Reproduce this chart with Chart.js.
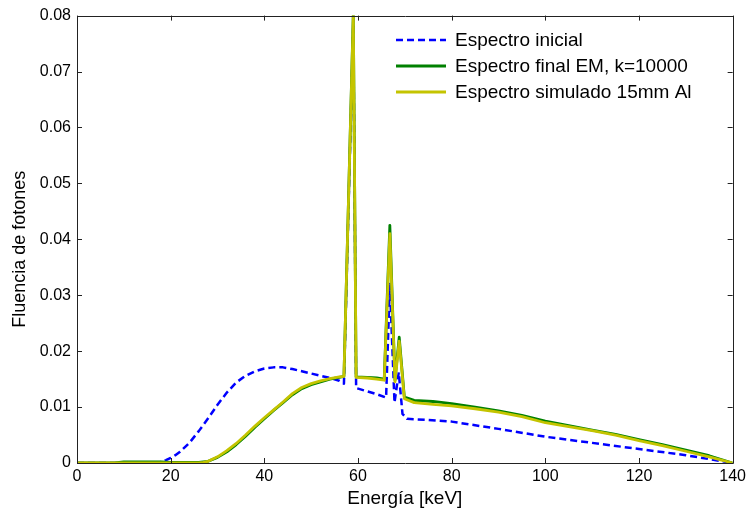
<!DOCTYPE html>
<html>
<head>
<meta charset="utf-8">
<script src="https://cdn.jsdelivr.net/npm/chart.js@4/dist/chart.umd.min.js"></script>
<style>
  html, body { margin: 0; padding: 0; background: #fff; }
  #wrap { width: 750px; height: 518px; position: relative; }
</style>
</head>
<body>
<div id="wrap"><canvas id="c" width="750" height="518"></canvas></div>
<script>
// Spectra (energy in keV, photon fluence)
const initialEnergy = [0, 17, 18, 19, 20, 21, 22, 24, 26, 28, 30, 32, 34, 36, 38, 40, 42, 44, 46, 48, 50, 52, 54, 56, 57, 59, 59.6, 62, 64, 66, 66.8, 67.8, 68.7, 69.5, 70.5, 75, 80, 90, 100, 110, 120, 130, 140];
const initialFluence = [0, 0, 0.0002, 0.0005, 0.0009, 0.0014, 0.0020, 0.0036, 0.0057, 0.0080, 0.0104, 0.0126, 0.0144, 0.0156, 0.0164, 0.0169, 0.0171, 0.0171, 0.0168, 0.0164, 0.0160, 0.0156, 0.0152, 0.0147, 0.0142, 0.0785, 0.0134, 0.0128, 0.0123, 0.0117, 0.0320, 0.0108, 0.0162, 0.0088, 0.0079, 0.0077, 0.0074, 0.0061, 0.0047, 0.0036, 0.0025, 0.0014, 0];

const emEnergy = [0, 8, 10, 18, 20, 26, 28, 30, 32, 34, 36, 38, 40, 42, 44, 46, 48, 50, 52, 54, 56, 57, 59, 59.6, 62, 64, 65.6, 66.8, 67.9, 68.8, 69.9, 72, 76, 80, 85, 90, 95, 100, 105, 110, 115, 120, 125, 130, 135, 140];
const emFluence = [0, 0, 0.0002, 0.0002, 0.0001, 0.0001, 0.0003, 0.0010, 0.0020, 0.0033, 0.0048, 0.0064, 0.0079, 0.0094, 0.0108, 0.0122, 0.0133, 0.0140, 0.0145, 0.0150, 0.0153, 0.0155, 0.0805, 0.0154, 0.0153, 0.0152, 0.0150, 0.0425, 0.0148, 0.0225, 0.0118, 0.0112, 0.0110, 0.0106, 0.0100, 0.0093, 0.0085, 0.0075, 0.0067, 0.0059, 0.0051, 0.0042, 0.0033, 0.0023, 0.0013, 0];

const simEnergy = [0, 26, 27, 28, 29, 30, 32, 34, 36, 38, 40, 42, 44, 46, 48, 50, 52, 54, 56, 57, 59, 59.6, 62, 64, 65.6, 66.8, 67.9, 68.8, 69.9, 72, 76, 80, 85, 90, 95, 100, 105, 110, 115, 120, 125, 130, 135, 140];
const simFluence = [0, 0, 0.0001, 0.0003, 0.0007, 0.0011, 0.0022, 0.0035, 0.0050, 0.0066, 0.0081, 0.0095, 0.0109, 0.0124, 0.0135, 0.0142, 0.0147, 0.0151, 0.0154, 0.0155, 0.0800, 0.0153, 0.0152, 0.0150, 0.0148, 0.0410, 0.0145, 0.0218, 0.0115, 0.0108, 0.0105, 0.0102, 0.0097, 0.0091, 0.0083, 0.0072, 0.0065, 0.0058, 0.0050, 0.0040, 0.0031, 0.0021, 0.0011, 0];

const seriesLabels = ['Espectro inicial', 'Espectro final EM, k=10000', 'Espectro simulado 15mm Al'];
const xTickValues = [0, 20, 40, 60, 80, 100, 120, 140];
const yTickValues = [0, 0.01, 0.02, 0.03, 0.04, 0.05, 0.06, 0.07, 0.08];
const yTickLabels = ['0', '0.01', '0.02', '0.03', '0.04', '0.05', '0.06', '0.07', '0.08'];
const xAxisTitle = 'Energía [keV]';
const yAxisTitle = 'Fluencia de fotones';

const FONT = "'Liberation Sans', Arial, sans-serif";
const toPoints = (xs, ys) => xs.map((x, i) => ({ x: x, y: ys[i] }));

// Box around the plot area with inward tick marks on all four sides
const boxPlugin = {
  id: 'box',
  afterDatasetsDraw(chart) {
    const { ctx, chartArea: a, scales: { x, y } } = chart;
    ctx.save();
    ctx.strokeStyle = '#222';
    ctx.lineWidth = 1;
    ctx.beginPath();
    ctx.rect(Math.round(a.left) + 0.5, Math.round(a.top) + 0.5, Math.round(a.right - a.left), Math.round(a.bottom - a.top));
    ctx.stroke();
    const tl = 5;
    ctx.beginPath();
    xTickValues.forEach(v => {
      const px = Math.round(x.getPixelForValue(v)) + 0.5;
      ctx.moveTo(px, a.bottom); ctx.lineTo(px, a.bottom - tl);
      ctx.moveTo(px, a.top); ctx.lineTo(px, a.top + tl);
    });
    yTickValues.forEach(v => {
      const py = Math.round(y.getPixelForValue(v)) + 0.5;
      ctx.moveTo(a.left, py); ctx.lineTo(a.left + tl, py);
      ctx.moveTo(a.right, py); ctx.lineTo(a.right - tl, py);
    });
    ctx.stroke();
    ctx.restore();
  }
};

// Vertical axis title, placed a little below the middle of the axis
const yTitlePlugin = {
  id: 'yTitle',
  afterDraw(chart) {
    const { ctx, chartArea: a } = chart;
    ctx.save();
    ctx.font = '18px ' + FONT;
    ctx.fillStyle = '#000';
    ctx.textAlign = 'center';
    ctx.textBaseline = 'middle';
    ctx.translate(20, (a.top + a.bottom) / 2 + 10);
    ctx.rotate(-Math.PI / 2);
    ctx.fillText(yAxisTitle, 0, 0);
    ctx.restore();
  }
};

// Legend drawn inside the upper right corner of the plot, without a frame
const insideLegend = {
  id: 'insideLegend',
  afterDraw(chart) {
    const { ctx } = chart;
    const x0 = 396, x1 = 446, tx = 455;
    const rows = [40, 66, 92];
    ctx.save();
    ctx.font = '19px ' + FONT;
    ctx.textBaseline = 'middle';
    ctx.fillStyle = '#000';
    chart.data.datasets.forEach((ds, i) => {
      ctx.strokeStyle = ds.borderColor;
      ctx.lineWidth = ds.borderWidth;
      ctx.setLineDash(ds.borderDash || []);
      ctx.beginPath();
      ctx.moveTo(x0, rows[i]);
      ctx.lineTo(x1, rows[i]);
      ctx.stroke();
      ctx.setLineDash([]);
      ctx.fillText(ds.label, tx, rows[i] + 1);
    });
    ctx.restore();
  }
};

new Chart(document.getElementById('c'), {
  type: 'line',
  data: {
    datasets: [
      {
        label: seriesLabels[0],
        data: toPoints(initialEnergy, initialFluence),
        borderColor: '#0000ff',
        borderWidth: 2.5,
        borderDash: [7, 4],
        order: 3
      },
      {
        label: seriesLabels[1],
        data: toPoints(emEnergy, emFluence),
        borderColor: '#008000',
        borderWidth: 2.8,
        order: 2
      },
      {
        label: seriesLabels[2],
        data: toPoints(simEnergy, simFluence),
        borderColor: '#c4c400',
        borderWidth: 2.8,
        order: 1
      }
    ]
  },
  options: {
    responsive: false,
    animation: false,
    devicePixelRatio: 1,
    elements: { point: { radius: 0 }, line: { tension: 0, borderCapStyle: 'butt', borderJoinStyle: 'round' } },
    layout: { padding: { top: 13, right: 16, left: 0, bottom: 0 } },
    plugins: { legend: { display: false }, tooltip: { enabled: false } },
    scales: {
      x: {
        type: 'linear',
        min: 0, max: 140,
        afterFit(s) { s.height = 55; },
        afterBuildTicks(s) { s.ticks = xTickValues.map(v => ({ value: v })); },
        grid: { display: false, drawTicks: false },
        border: { display: false },
        ticks: { color: '#000', font: { family: FONT, size: 16 }, padding: 4, maxRotation: 0, autoSkip: false },
        title: { display: true, text: xAxisTitle, color: '#000', font: { family: FONT, size: 19 }, padding: { top: 0, bottom: 8 } }
      },
      y: {
        type: 'linear',
        min: 0, max: 0.08,
        afterFit(s) { s.width = 77; },
        afterBuildTicks(s) { s.ticks = yTickValues.map(v => ({ value: v })); },
        grid: { display: false, drawTicks: false },
        border: { display: false },
        ticks: {
          color: '#000', font: { family: FONT, size: 16 }, padding: 6, autoSkip: false,
          callback: (v, i) => yTickLabels[i]
        },
        title: { display: false }
      }
    }
  },
  plugins: [boxPlugin, insideLegend, yTitlePlugin]
});
</script>
</body>
</html>
